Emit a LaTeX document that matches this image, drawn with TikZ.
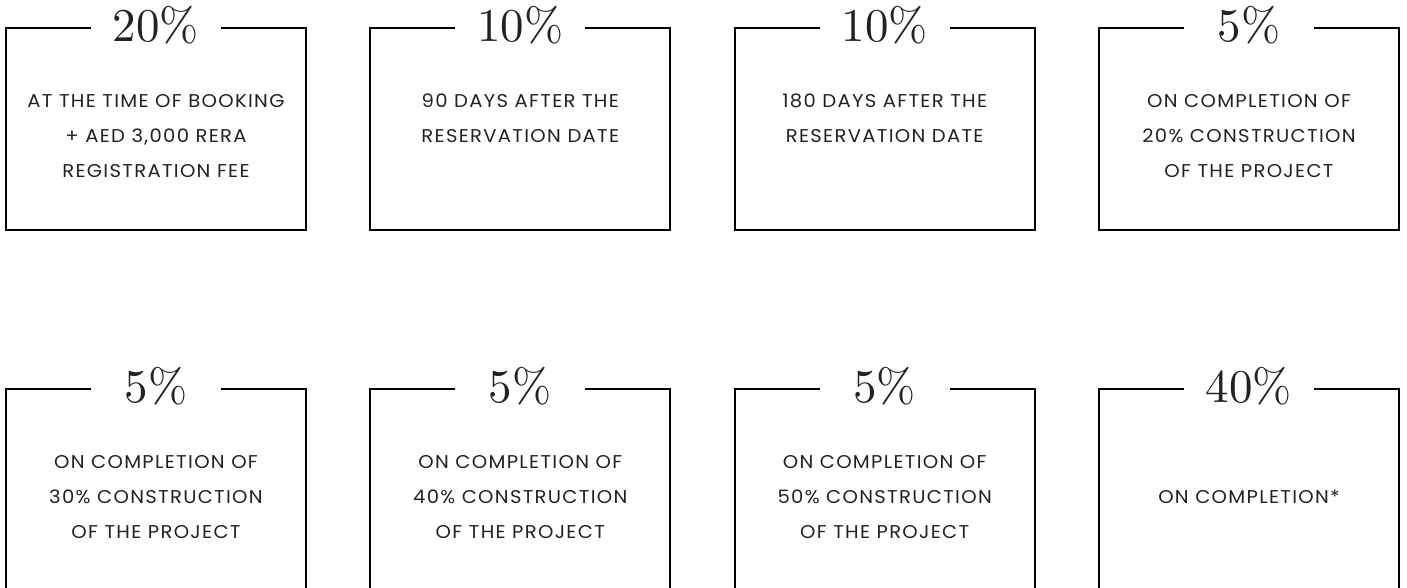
\documentclass[tikz,border=0pt]{standalone}
\usepackage{fontspec}
\newfontfamily\bodyfont[LetterSpace=7,FakeStretch=1.06]{Poppins}
\newfontfamily\pctfont{lmroman10-regular.otf}
\definecolor{ink}{HTML}{222222}
\tikzset{
  pct/.style={font=\pctfont\fontsize{47}{47}\selectfont, inner sep=0pt, anchor=base, text=ink},
  bodytext/.style={font=\bodyfont\fontsize{18.5}{35}\selectfont, align=center, anchor=north, inner sep=0pt, text=ink},
  boxline/.style={draw=black, line width=1.8pt, line join=miter}
}
\newcommand\paybox[5]{%
  \coordinate (#1nw) at (#2,#3);
  \coordinate (#1ne) at (#2+300,#3);
  \coordinate (#1sw) at (#2,#3+202);
  \coordinate (#1se) at (#2+300,#3+202);
  \coordinate (#1gl) at (#2+85,#3);
  \coordinate (#1gr) at (#2+215,#3);
  \node[pct] (#1t) at (#2+150,#3+13) {#4};
  \node[bodytext] (#1b) at (#2+150,#3+66) {#5};
  \draw[boxline] (#1gl) -- (#1nw) -- (#1sw) -- (#1se) -- (#1ne) -- (#1gr);
}
\begin{document}
\begin{tikzpicture}[x=1pt,y=-1pt]
\useasboundingbox (0,0) rectangle (1407,587);
\clip (0,0) rectangle (1407,587);
\paybox{a}{6}{28}{20\%}{AT THE TIME OF BOOKING\\+ AED 3,000 RERA\\REGISTRATION FEE}
\paybox{b}{370.3}{28}{10\%}{90 DAYS AFTER THE\\RESERVATION DATE}
\paybox{c}{734.7}{28}{10\%}{180 DAYS AFTER THE\\RESERVATION DATE}
\paybox{d}{1099}{28}{5\%}{ON COMPLETION OF\\20\% CONSTRUCTION\\OF THE PROJECT}
\paybox{e}{6}{389}{5\%}{ON COMPLETION OF\\30\% CONSTRUCTION\\OF THE PROJECT}
\paybox{f}{370.3}{389}{5\%}{ON COMPLETION OF\\40\% CONSTRUCTION\\OF THE PROJECT}
\paybox{g}{734.7}{389}{5\%}{ON COMPLETION OF\\50\% CONSTRUCTION\\OF THE PROJECT}
\paybox{h}{1099}{389}{40\%}{\phantom{O}\\ON COMPLETION*}
\end{tikzpicture}
\end{document}
